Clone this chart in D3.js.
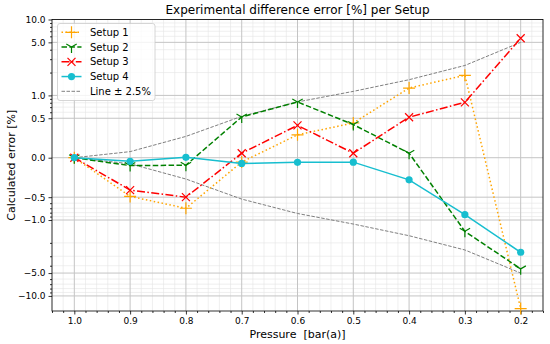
<!DOCTYPE html>
<html>
<head>
<meta charset="utf-8">
<script src="https://d3js.org/d3.v7.min.js"></script>
<style>
  body { margin: 0; background: #fff; }
  text { font-family: "DejaVu Sans", sans-serif; fill: #000; }
</style>
</head>
<body>
<svg id="chart" width="550" height="344"></svg>
<script>
// values
const pressure = [1.0, 0.9, 0.8, 0.7, 0.6, 0.5, 0.4, 0.3, 0.2];
const setup1 = [0.0, -0.49, -0.70, -0.055, 0.29, 0.44, 1.25, 1.84, -14.7];
const setup2 = [0.0, -0.10, -0.095, 0.52, 0.82, 0.42, 0.057, -1.41, -4.4];
const setup3 = [0.0, -0.41, -0.50, 0.057, 0.41, 0.057, 0.516, 0.81, 5.67];
const setup4 = [0.0, -0.046, 0.005, -0.072, -0.059, -0.056, -0.28, -0.85, -2.66];
const bandUpper = [0.0, 0.077, 0.27, 0.53, 0.82, 1.13, 1.61, 2.48, 5.0];
const bandLower = bandUpper.map(v => -v);

const xTicks = [1.0, 0.9, 0.8, 0.7, 0.6, 0.5, 0.4, 0.3, 0.2];
const yTicks = [-10, -5, -1, -0.5, 0, 0.5, 1, 5, 10];
const yMinor = [0.6, 0.7, 0.8, 0.9, 2, 3, 4, 6, 7, 8, 9];

const series = [
  {name: 'Setup 1', values: setup1, color: '#ffa500', dash: '1.5,2.5', marker: 'plus'},
  {name: 'Setup 2', values: setup2, color: '#008000', dash: '5.5,2.4', marker: 'tri'},
  {name: 'Setup 3', values: setup3, color: '#ff0000', dash: '8,2.4,1.5,2.4', marker: 'x'},
  {name: 'Setup 4', values: setup4, color: '#17becf', dash: null, marker: 'o'}
];

const pLeft = 52, pRight = 543, pTop = 19.5, pBottom = 311;

// matplotlib-like symlog (linthresh 0.5)
const LT = 0.5, LS = 0.52;
function symlog(v) {
  const a = Math.abs(v);
  return a <= LT ? v / LT * LS : Math.sign(v) * (LS + Math.log10(a / LT));
}

const x = d3.scaleLinear().domain([1.04, 0.16]).range([pLeft, pRight]);
const yLin = d3.scaleLinear().domain([symlog(-15.8), symlog(10)]).range([pBottom, pTop]);
const y = v => yLin(symlog(v));

const svg = d3.select('#chart');
svg.append('rect').attr('width', 550).attr('height', 344).attr('fill', '#fff');

// minor grid
const xMinor = d3.range(104, 15, -2).map(d => d / 100).filter(d => Math.round(d * 100) % 10 !== 0);
svg.append('g').selectAll('line').data(xMinor).enter().append('line')
  .attr('x1', d => x(d)).attr('x2', d => x(d)).attr('y1', pTop).attr('y2', pBottom)
  .attr('stroke', '#e4e4e4').attr('stroke-width', 0.6);
const yMinorAll = yMinor.concat(yMinor.map(v => -v));
svg.append('g').selectAll('line').data(yMinorAll).enter().append('line')
  .attr('x1', pLeft).attr('x2', pRight).attr('y1', d => y(d)).attr('y2', d => y(d))
  .attr('stroke', '#e4e4e4').attr('stroke-width', 0.6);

// major grid
svg.append('g').selectAll('line').data(xTicks).enter().append('line')
  .attr('x1', d => x(d)).attr('x2', d => x(d)).attr('y1', pTop).attr('y2', pBottom)
  .attr('stroke', '#c4c4c4').attr('stroke-width', 1);
svg.append('g').selectAll('line').data(yTicks).enter().append('line')
  .attr('x1', pLeft).attr('x2', pRight).attr('y1', d => y(d)).attr('y2', d => y(d))
  .attr('stroke', '#c4c4c4').attr('stroke-width', 1);

// axes
const xAxis = d3.axisBottom(x).tickValues(xTicks).tickFormat(d3.format('.1f')).tickSize(3.5).tickPadding(3);
svg.append('g').attr('transform', `translate(0,${pBottom})`).call(xAxis);
const xAxisMinor = d3.axisBottom(x).tickValues(xMinor).tickFormat('').tickSize(2);
svg.append('g').attr('transform', `translate(0,${pBottom})`).call(xAxisMinor);

const fmtY = d => (d < 0 ? '\u2212' : '') + Math.abs(d).toFixed(1);
const yAxis = d3.axisLeft(yLin).tickValues(yTicks.map(symlog))
  .tickFormat((d, i) => fmtY(yTicks[i])).tickSize(3.5).tickPadding(3);
svg.append('g').attr('transform', `translate(${pLeft},0)`).call(yAxis);
const yAxisMinor = d3.axisLeft(yLin).tickValues(yMinorAll.map(symlog)).tickFormat('').tickSize(2);
svg.append('g').attr('transform', `translate(${pLeft},0)`).call(yAxisMinor);

svg.selectAll('.domain').remove();
svg.selectAll('.tick line').attr('stroke', '#000').attr('stroke-width', 0.8);
svg.selectAll('.tick text').style('font-family', '"DejaVu Sans", sans-serif').style('font-size', '9px').attr('fill', '#000');

// frame
svg.append('rect').attr('x', pLeft).attr('y', pTop).attr('width', pRight - pLeft).attr('height', pBottom - pTop)
  .attr('fill', 'none').attr('stroke', '#000').attr('stroke-width', 0.8);

// markers
function markerPath(type) {
  if (type === 'plus') return 'M-6,0H6M0,-6V6';
  if (type === 'x') return 'M-4,-4L4,4M-4,4L4,-4';
  if (type === 'tri') return 'M0,0V6M0,0L-5.2,-3M0,0L5.2,-3';
  return null;
}
function drawMarker(g, type, color) {
  if (type === 'o') {
    g.append('circle').attr('r', 3.6).attr('fill', color);
  } else {
    g.append('path').attr('d', markerPath(type)).attr('stroke', color).attr('stroke-width', 1.2).attr('fill', 'none');
  }
}

const plot = svg.append('g');
const line = d3.line().x(d => x(d[0])).y(d => y(d[1]));

// band lines
[bandUpper, bandLower].forEach(b => {
  plot.append('path').datum(pressure.map((p, i) => [p, b[i]]))
    .attr('d', line).attr('fill', 'none').attr('stroke', '#808080')
    .attr('stroke-width', 1).attr('stroke-dasharray', '3.5,1.5');
});

series.forEach(s => {
  const pts = pressure.map((p, i) => [p, s.values[i]]);
  plot.append('path').datum(pts).attr('d', line).attr('fill', 'none')
    .attr('stroke', s.color).attr('stroke-width', 1.5)
    .attr('stroke-dasharray', s.dash);
  pts.forEach(pt => {
    const g = plot.append('g').attr('transform', `translate(${x(pt[0])},${y(pt[1])})`);
    drawMarker(g, s.marker, s.color);
  });
});

// legend
const lg = svg.append('g');
lg.append('rect').attr('x', 57.5).attr('y', 23.5).attr('width', 97.5).attr('height', 77)
  .attr('rx', 2.5).attr('fill', '#fff').attr('fill-opacity', 0.8).attr('stroke', '#cccccc').attr('stroke-width', 0.8);
const legendItems = series.concat([{name: 'Line \u00b1 2.5%', color: '#808080', dash: '3.5,1.5', marker: null, width: 1}]);
legendItems.forEach((s, i) => {
  const yy = 32.3 + i * 14.75;
  lg.append('line').attr('x1', 61.5).attr('x2', 81.5).attr('y1', yy).attr('y2', yy)
    .attr('stroke', s.color).attr('stroke-width', s.width || 1.5).attr('stroke-dasharray', s.dash);
  if (s.marker) {
    const g = lg.append('g').attr('transform', `translate(71.5,${yy})`);
    drawMarker(g, s.marker, s.color);
  }
  lg.append('text').attr('x', 90).attr('y', yy).attr('dy', '0.35em')
    .style('font-size', '10px').text(s.name);
});

// title and labels
svg.append('text').attr('x', (pLeft + pRight) / 2).attr('y', 13.5).attr('text-anchor', 'middle')
  .style('font-size', '12px').text('Experimental difference error [%] per Setup');
svg.append('text').attr('x', (pLeft + pRight) / 2).attr('y', 338).attr('text-anchor', 'middle')
  .style('font-size', '11px').style('white-space', 'pre').text('Pressure  [bar(a)]');
svg.append('text').attr('transform', `translate(15,${(pTop + pBottom) / 2}) rotate(-90)`)
  .attr('text-anchor', 'middle').style('font-size', '11px').text('Calculated error [%]');
</script>
</body>
</html>
